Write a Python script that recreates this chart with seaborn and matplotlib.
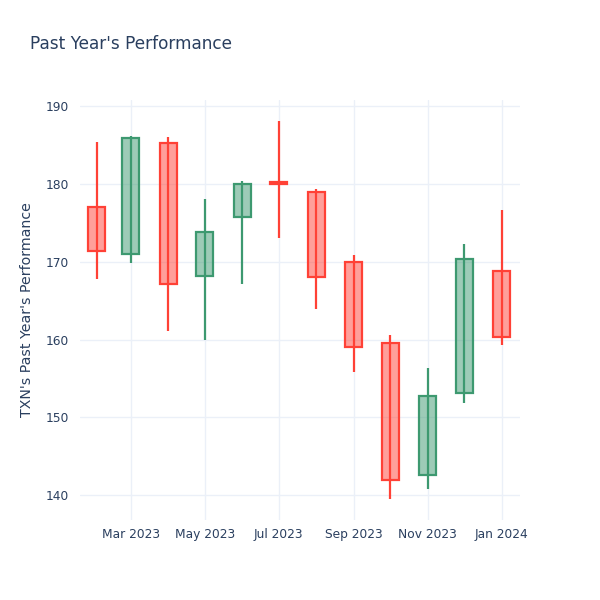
import pandas as pd
import numpy as np
import matplotlib
matplotlib.use("Agg")
import matplotlib.pyplot as plt
import matplotlib.dates as mdates
import seaborn as sns

# ── Data (monthly OHLC) ───────────────────────────────────
months = ["2023-02-01", "2023-03-01", "2023-04-01", "2023-05-01", "2023-06-01", "2023-07-01",
          "2023-08-01", "2023-09-01", "2023-10-01", "2023-11-01", "2023-12-01", "2024-01-01"]
open_  = [177.0, 171.0, 185.3, 168.2, 175.8, 180.15, 179.0, 170.0, 159.5, 142.6, 153.1, 168.8]
high   = [185.4, 186.2, 186.1, 178.1, 180.4, 188.1, 179.4, 170.9, 160.6, 156.3, 172.3, 176.6]
low    = [167.8, 169.8, 161.1, 160.0, 167.2, 173.1, 163.9, 155.8, 139.5, 140.8, 151.9, 159.3]
close  = [171.4, 185.9, 167.2, 173.8, 180.0, 180.05, 168.1, 159.0, 142.0, 152.7, 170.4, 160.3]

# ── Style ─────────────────────────────────────────────────
INC_CLR  = "#3D9970"
DEC_CLR  = "#FF4136"
TEXT_CLR = "#2a3f5f"
GRID_CLR = "#EBF0F8"

sns.set_theme(style="whitegrid")
plt.rcParams.update({
    "font.family"   : "DejaVu Sans",
    "axes.edgecolor": "white",
    "grid.color"    : GRID_CLR,
    "grid.linewidth": 1.0,
    "xtick.color"   : TEXT_CLR,
    "ytick.color"   : TEXT_CLR,
})

df = pd.DataFrame({"date": pd.to_datetime(months), "open": open_,
                   "high": high, "low": low, "close": close})
df["up"] = df["close"] >= df["open"]
df["color"] = np.where(df["up"], INC_CLR, DEC_CLR)
df["bottom"] = df[["open", "close"]].min(axis=1)
df["height"] = (df["open"] - df["close"]).abs().clip(lower=0.15)

fig = plt.figure(figsize=(6, 6), dpi=100)
ax = fig.add_axes([80/600, 80/600, 440/600, 420/600])

# wicks
ax.vlines(df["date"], df["low"], df["high"], colors=df["color"], lw=1.6, zorder=2)
# bodies
ax.bar(df["date"], df["height"], bottom=df["bottom"], width=14,
       color=[c + "80" for c in df["color"]], edgecolor=df["color"],
       linewidth=1.6, zorder=3)

ax.set_ylim(136.8, 190.8)
ax.set_xlim(pd.Timestamp("2023-01-18"), pd.Timestamp("2024-01-16"))
ax.set_yticks([140, 150, 160, 170, 180, 190])
ax.xaxis.set_major_locator(mdates.MonthLocator(bymonth=[1, 3, 5, 7, 9, 11]))
ax.xaxis.set_major_formatter(mdates.DateFormatter("%b %Y"))
ax.tick_params(axis="both", length=0, labelsize=8.8, pad=6)
ax.tick_params(axis="y", pad=8)
ax.grid(True, axis="both")
for s in ax.spines.values():
    s.set_visible(False)

ax.set_ylabel("TXN's Past Year's Performance", fontsize=10.2, color=TEXT_CLR, labelpad=8)
fig.text(30/600, 1 - 44/600, "Past Year's Performance", fontsize=12.2,
         color=TEXT_CLR, va="center", ha="left")

fig.savefig("out.png", dpi=100, facecolor="white")
plt.close()
